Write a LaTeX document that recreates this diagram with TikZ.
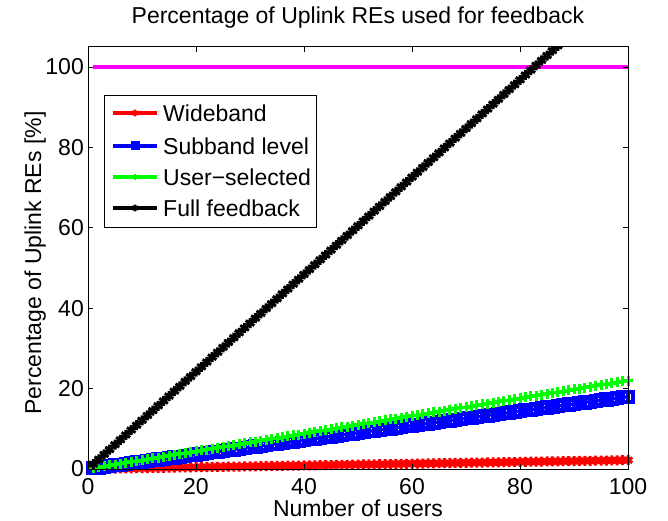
\documentclass[tikz,border=0pt]{standalone}
\usepackage{fontspec}
\setmainfont{Liberation Sans}
\usepackage{tikz}
\usetikzlibrary{positioning,plotmarks}
\definecolor{red}{rgb}{1.0,0.0,0.0}
\definecolor{blue}{rgb}{0.0,0.0,1.0}
\definecolor{green}{rgb}{0.0,1.0,0.0}
\definecolor{limitpink}{rgb}{1.0,0.0,1.0}
\newcommand{\figfont}{\fontsize{23}{27}\selectfont}
\tikzset{
  frame/.style={draw=black, line width=0.8pt},
  ticklabel/.style={font=\figfont, inner sep=0pt},
  curve/.style={line width=3.2pt, mark size=5pt, mark options={solid, line width=3pt}},
  keymark/.style={mark size=3.4pt, mark options={solid, line width=2.2pt}},
%
  wideband/.style={curve, red,   mark=asterisk},
  subband/.style ={curve, blue,  mark=square, mark options={solid, line width=4.2pt}},
  usersel/.style ={curve, green, mark=+},
  full/.style    ={curve, black, mark=asterisk},
  limit/.style   ={draw=limitpink, line width=3.4pt}
}

\begin{document}
\begin{tikzpicture}
\useasboundingbox (0,0) rectangle (668pt,521pt);

\begin{scope}[shift={(88pt,52pt)}, x=5.4pt, y=4.02pt]
\coordinate (O) at (0,0);
\coordinate (NE) at (100,105);

\draw[limit] (1,100) -- (100,100);
\draw[wideband] plot[domain=1:100, samples=100] (\x,{0.022*\x});
\draw[subband]  plot[domain=1:100, samples=100] (\x,{0.18*\x});
\draw[usersel]  plot[domain=1:100, samples=100] (\x,{0.22*\x});
\begin{scope}
  \clip (-2,-2) rectangle (102,105);
  \draw[full] plot[domain=1:88, samples=88] (\x,{1.21*\x});
\end{scope}

\draw[frame] (O) rectangle (NE);
\foreach \t in {0,20,...,100} {
  \draw[frame] (\t,0) -- ++(0,5pt);
  \draw[frame] (\t,105) -- ++(0,-5pt);
  \node[ticklabel, anchor=north] (xt\t) at (\t,0) [yshift=-9pt] {\t};
}
\foreach \t in {0,20,...,100} {
  \draw[frame] (0,\t) -- ++(5pt,0);
  \draw[frame] (100,\t) -- ++(-5pt,0);
  \node[ticklabel, anchor=east] (yt\t) at (0,\t) [xshift=-4pt] {\t};
}
\end{scope}

\node[ticklabel, anchor=base] (title) at (358pt,497pt) {Percentage of Uplink REs used for feedback};
\node[ticklabel, anchor=base] (xlabel) at (358pt,4pt) {Number of users};
\node[ticklabel, anchor=base, rotate=90] (ylabel) at (41pt,258pt) {Percentage of Uplink REs [\%]};

% legend
\draw[frame, fill=white] (104pt,294pt) rectangle (316pt,426pt);
\foreach \sty/\txt/\yy [count=\i] in {wideband/Wideband/408, subband/Subband level/375,
                                      usersel/User−selected/344, full/Full feedback/313} {
  \draw[\sty] (113pt,\yy pt) -- (157pt,\yy pt);
  \draw[\sty, keymark] plot coordinates {(135pt,\yy pt)};
  \node[ticklabel, anchor=west] (lg\i) at (163pt,\yy pt) {\txt};
}

\end{tikzpicture}
\end{document}
